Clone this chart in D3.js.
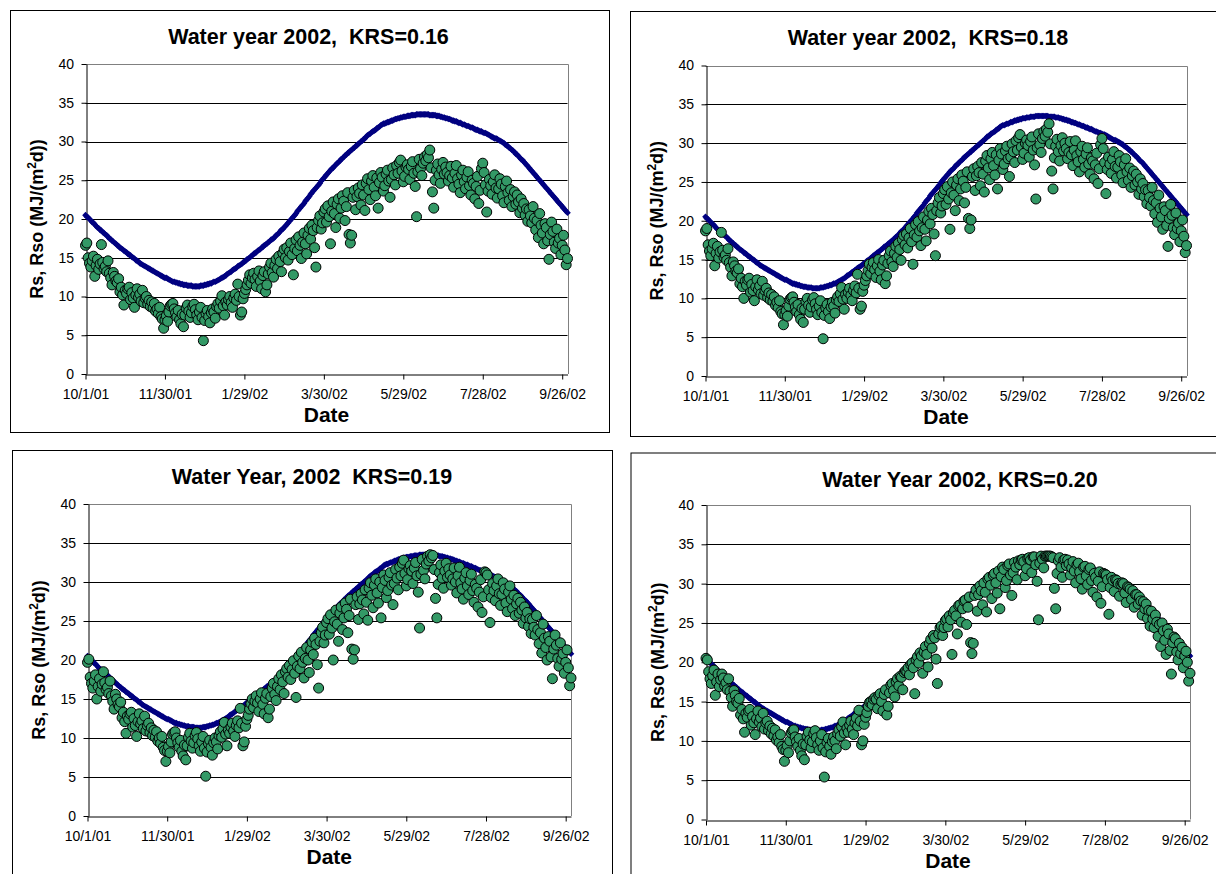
<!DOCTYPE html>
<html>
<head>
<meta charset="utf-8">
<script src="https://cdn.jsdelivr.net/npm/d3@7"></script>
<style>
  html, body { margin: 0; padding: 0; background: #fff; }
  svg { display: block; font-family: Arial, "Liberation Sans", Helvetica, sans-serif; }
</style>
</head>
<body>
<svg id="chart" width="1216" height="874"></svg>
<script>
// ---- data: daily values 10/1/01 .. 9/30/02, MJ/(m2 d) ----
const tickLabels = ['10/1/01', '11/30/01', '1/29/02', '3/30/02', '5/29/02', '7/28/02', '9/26/02'];
const lastDay = '9/30/02';
const yTicks = [0, 5, 10, 15, 20, 25, 30, 35, 40];
const titles = ['Water year 2002,  KRS=0.16', 'Water year 2002,  KRS=0.18', 'Water Year, 2002  KRS=0.19', 'Water Year 2002, KRS=0.20'];

// clear-sky radiation Rso (blue diamonds, same in all panels)
const rso = [
  20.5,20.3,20.2,20.0,19.8,19.6,19.5,19.3,19.1,18.9,18.8,18.6,18.5,18.3,18.2,18.0,17.9,17.7,17.5,17.4,17.2,17.1,16.9,16.8,16.6,
  16.5,16.3,16.2,16.1,15.9,15.8,15.7,15.5,15.4,15.3,15.1,15.0,14.9,14.7,14.6,14.5,14.3,14.2,14.1,14.0,13.9,13.8,13.7,13.6,13.5,13.4,13.3,13.2,13.1,13.0,
  12.9,12.8,12.7,12.6,12.5,12.4,12.4,12.3,12.2,12.1,12.0,11.9,11.9,11.8,11.8,11.7,11.7,11.6,11.6,11.5,11.5,11.5,11.4,
  11.4,11.4,11.4,11.3,11.3,11.3,11.3,11.3,11.3,11.4,11.4,11.4,11.5,11.5,11.6,11.6,11.7,11.7,11.8,11.9,11.9,12.0,
  12.1,12.2,12.3,12.4,12.5,12.6,12.7,12.9,13.0,13.1,13.2,13.4,13.5,13.6,13.7,13.9,14.0,14.1,14.2,14.4,14.5,14.6,14.8,14.9,15.0,15.2,15.3,15.5,
  15.6,15.7,15.9,16.0,16.1,16.3,16.4,16.6,16.7,16.8,17.0,17.1,17.3,17.4,17.5,17.7,17.9,18.0,18.2,18.4,18.6,18.7,18.9,19.1,19.3,
  19.5,19.7,19.9,20.1,20.3,20.5,20.7,21.0,21.2,21.4,21.6,21.8,22.0,22.3,22.5,22.7,22.9,23.2,23.4,23.6,23.8,24.0,24.2,24.4,24.6,24.9,25.1,25.3,25.5,
  25.7,25.9,26.1,26.3,26.5,26.6,26.8,27.0,27.2,27.3,27.5,27.7,27.8,28.0,28.2,28.3,28.5,28.6,28.8,28.9,29.1,29.2,29.4,29.5,29.7,29.8,30.0,30.1,30.3,30.4,30.6,30.8,
  30.9,31.0,31.2,31.3,31.4,31.5,31.7,31.8,31.9,32.1,32.2,32.3,32.3,32.4,32.5,32.5,32.6,32.7,32.7,32.8,32.9,32.9,33.0,33.0,33.1,
  33.1,33.2,33.2,33.2,33.3,33.3,33.3,33.4,33.4,33.4,33.4,33.5,33.5,33.5,33.5,33.5,33.5,33.5,33.5,33.5,33.5,33.4,33.4,33.4,33.4,
  33.4,33.3,33.3,33.3,33.2,33.2,33.1,33.1,33.0,33.0,32.9,32.9,32.8,32.7,32.7,32.6,32.6,32.5,32.4,32.4,32.3,32.2,32.2,32.1,32.0,32.0,31.9,31.8,31.8,31.7,
  31.6,31.5,31.5,31.4,31.3,31.3,31.2,31.1,31.1,31.0,30.9,30.8,30.7,30.6,30.5,30.4,30.4,30.3,30.2,30.1,30.0,
  29.9,29.8,29.6,29.5,29.4,29.2,29.1,28.9,28.8,28.6,28.4,28.3,28.1,27.9,27.7,27.6,27.4,27.2,27.0,26.8,26.6,26.4,26.2,26.0,25.8,
  25.6,25.4,25.2,25.0,24.8,24.6,24.4,24.2,24.0,23.8,23.6,23.4,23.2,23.0,22.8,22.6,22.4,22.2,22.0,21.8,21.6,21.4,21.2,21.0,20.8
];

// estimated Rs (green circles), one array per KRS
const rs016 = [
  16.6,16.9,15.0,14.3,13.8,14.6,15.2,12.6,14.0,14.8,13.5,14.2,16.7,14.4,13.6,13.9,13.2,14.6,13.0,12.4,11.5,13.1,12.6,12.0,11.8,12.3,10.6,11.2,10.2,8.9,10.8,
  10.4,11.0,11.2,9.6,10.5,9.8,8.6,10.2,11.0,9.9,10.3,9.4,10.8,9.2,9.8,10.0,9.0,9.5,8.7,9.3,8.5,9.1,8.1,8.4,7.8,8.6,7.4,7.1,5.9,7.0,
  7.5,6.8,8.0,8.8,9.0,9.1,8.4,7.9,7.4,8.2,7.0,6.5,7.7,6.1,7.6,8.5,8.9,8.1,7.3,7.9,8.7,9.0,8.3,7.6,7.0,8.0,8.6,7.3,4.3,6.9,7.8,
  8.2,7.4,6.6,7.9,8.4,8.0,7.2,8.7,9.1,8.5,9.4,10.1,8.8,7.6,9.3,8.9,9.6,10.0,9.2,8.6,9.8,10.3,9.5,11.6,10.0,7.6,8.0,9.7,10.4,10.9,11.5,
  12.1,12.8,11.7,12.4,13.0,12.2,11.3,12.6,13.3,12.0,11.0,12.7,13.2,10.6,11.5,12.9,13.8,14.3,13.1,12.5,14.0,14.8,13.6,15.2,14.5,13.2,15.6,16.1,
  15.0,16.3,14.7,15.8,16.9,15.4,12.8,16.2,17.3,15.9,17.7,16.6,14.9,17.0,18.2,16.8,15.5,17.9,18.8,17.4,19.2,18.5,16.3,13.8,18.9,19.8,20.4,18.7,19.5,20.9,21.3,
  19.6,21.7,20.3,16.8,21.0,22.2,20.7,18.9,21.9,22.6,20.1,21.4,23.0,22.3,19.8,21.6,23.4,18.0,16.9,17.9,22.8,23.7,21.2,22.9,24.0,23.3,21.8,24.4,23.1,21.1,
  24.6,25.2,23.8,22.5,24.9,25.6,24.1,23.0,25.3,21.4,24.7,26.0,25.4,23.6,24.3,25.8,26.3,24.9,22.8,25.1,26.6,25.7,24.4,26.9,25.9,27.3,27.6,26.2,24.8,25.5,26.7,
  27.0,26.4,25.1,26.8,27.4,25.9,24.2,20.3,26.1,27.7,26.5,25.6,27.2,28.0,27.5,28.3,27.9,28.9,26.6,23.5,21.4,25.0,26.3,27.1,25.7,24.6,26.4,27.3,25.8,26.7,
  26.0,24.9,25.6,26.8,25.3,24.1,25.9,26.9,25.2,24.5,23.4,25.7,26.3,24.8,23.9,25.4,26.1,24.3,23.1,25.0,24.6,22.6,24.2,25.5,22.0,23.7,26.5,27.2,26.0,24.4,20.9,
  23.6,25.1,24.3,23.2,24.8,25.7,24.0,22.7,23.9,25.2,24.5,23.0,22.1,24.2,24.9,23.4,22.4,23.8,21.6,22.9,23.5,21.9,23.1,22.2,20.8,22.6,21.4,22.0,20.5,21.3,19.7,
  21.2,20.4,19.5,21.6,20.1,18.6,19.8,17.6,20.7,19.2,18.2,16.8,19.4,18.9,17.2,14.8,18.0,19.6,18.4,17.0,16.2,18.7,16.9,17.5,15.4,16.6,17.9,16.0,14.1,14.9
];
const rs018 = [
  18.7,19.0,16.9,16.1,15.5,16.4,17.1,14.2,15.8,16.7,15.2,16.0,18.5,16.2,15.3,15.6,14.9,16.4,14.6,14.0,12.9,14.7,14.2,13.5,13.3,13.8,11.9,12.6,11.5,10.0,12.2,
  11.7,12.4,12.6,10.8,11.8,11.0,9.7,11.5,12.4,11.1,11.6,10.6,12.2,10.4,11.0,11.3,10.1,10.7,9.8,10.5,9.6,10.2,9.1,9.5,8.8,9.7,8.3,8.0,6.6,7.9,
  8.4,7.7,9.0,9.9,10.1,10.2,9.5,8.9,8.3,9.2,7.9,7.3,8.7,6.9,8.6,9.6,10.0,9.1,8.2,8.9,9.8,10.1,9.3,8.6,7.9,9.0,9.7,8.2,4.8,7.8,8.8,
  9.2,8.3,7.4,8.9,9.5,9.0,8.1,9.8,10.2,9.6,10.6,11.4,9.9,8.6,10.5,10.0,10.8,11.3,10.4,9.7,11.0,11.6,10.7,13.1,11.3,8.6,9.0,10.9,11.7,12.3,12.9,
  13.6,14.4,13.2,14.0,14.6,13.7,12.7,14.2,15.0,13.5,12.4,14.3,14.9,11.9,12.9,14.5,15.5,16.1,14.7,14.1,15.8,16.7,15.3,17.1,16.3,14.9,17.6,18.1,
  16.9,18.3,16.5,17.8,19.0,17.3,14.4,18.2,19.5,17.9,19.9,18.7,16.8,19.1,20.5,18.9,17.4,20.1,21.2,19.6,21.6,20.8,18.3,15.5,21.3,22.3,23.0,21.0,21.9,23.5,24.0,
  22.1,24.4,22.8,18.9,23.6,25.0,23.3,21.3,24.6,25.4,22.6,24.1,25.9,25.1,22.3,24.3,26.3,20.3,19.0,20.1,25.7,26.7,23.9,25.8,27.0,26.2,24.5,27.5,26.0,23.7,
  27.7,28.4,26.8,25.3,28.0,28.8,27.1,25.9,28.5,24.1,27.8,29.3,28.6,26.6,27.3,29.0,29.6,28.0,25.7,28.2,29.9,28.9,27.5,30.3,29.1,30.7,31.1,29.5,27.9,28.7,30.0,
  30.4,29.7,28.2,30.2,30.8,29.1,27.2,22.8,29.4,31.2,29.8,28.8,30.6,31.5,30.9,31.8,31.4,32.5,29.9,26.4,24.1,28.1,29.6,30.5,28.9,27.7,29.7,30.7,29.0,30.0,
  29.3,28.0,28.8,30.2,28.5,27.1,29.1,30.3,28.4,27.6,26.3,28.9,29.6,27.9,26.9,28.6,29.4,27.3,26.0,28.1,27.7,25.4,27.2,28.7,24.8,26.7,29.8,30.6,29.3,27.5,23.5,
  26.6,28.2,27.3,26.1,27.9,28.9,27.0,25.5,26.9,28.4,27.6,25.9,24.9,27.2,28.0,26.3,25.2,26.8,24.3,25.8,26.4,24.6,26.0,25.0,23.4,25.4,24.1,24.8,23.1,24.0,22.2,
  23.9,23.0,21.9,24.3,22.6,20.9,22.3,19.8,23.3,21.6,20.5,18.9,21.8,21.3,19.4,16.7,20.3,22.1,20.7,19.1,18.2,21.0,19.0,19.7,17.3,18.7,20.1,18.0,15.9,16.8
];
const rs019 = [
  19.7,20.1,17.8,17.0,16.4,17.3,18.1,15.0,16.6,17.6,16.0,16.9,18.5,17.1,16.2,16.5,15.7,17.3,15.4,14.7,13.7,15.6,15.0,14.3,14.0,14.6,12.6,13.3,12.1,10.6,12.8,
  12.4,13.1,13.3,11.4,12.5,11.6,10.2,12.1,13.1,11.8,12.2,11.2,12.8,10.9,11.6,11.9,10.7,11.3,10.3,11.0,10.1,10.8,9.6,10.0,9.3,10.2,8.8,8.4,7.0,8.3,
  8.9,8.1,9.5,10.5,10.7,10.8,10.0,9.4,8.8,9.7,8.3,7.7,9.1,7.2,9.0,10.1,10.6,9.6,8.7,9.4,10.3,10.7,9.9,9.0,8.3,9.5,10.2,8.7,5.1,8.2,9.3,
  9.7,8.8,7.8,9.4,10.0,9.5,8.6,10.3,10.8,10.1,11.2,12.0,10.5,9.0,11.0,10.6,11.4,11.9,10.9,10.2,11.6,12.2,11.3,13.8,11.9,9.0,9.5,11.5,12.4,12.9,13.7,
  14.4,15.0,13.9,14.7,15.4,14.5,13.4,15.0,15.8,14.3,13.1,15.1,15.7,12.6,13.7,15.3,16.4,17.0,15.6,14.8,16.6,17.6,16.2,18.1,17.2,15.7,18.5,18.9,
  17.8,19.3,17.5,18.8,19.9,18.3,15.2,19.2,20.5,18.9,21.0,19.7,17.7,20.2,21.6,20.0,18.4,21.3,22.3,20.7,22.8,22.0,19.4,16.4,22.4,23.5,24.2,22.2,23.2,24.8,25.3,
  23.3,25.8,24.1,20.0,24.9,26.4,24.6,22.4,26.0,26.8,23.9,25.4,27.3,26.5,23.5,25.7,27.8,21.4,20.1,21.3,27.1,28.1,25.2,27.2,28.5,27.7,25.9,29.0,27.4,25.1,
  29.2,29.9,28.3,26.7,29.6,30.4,28.6,27.3,30.0,25.4,29.3,30.9,30.2,28.0,28.9,30.6,31.2,29.6,27.1,29.8,31.6,30.5,29.0,31.9,30.8,32.4,32.8,31.1,29.5,30.3,31.7,
  32.1,31.4,29.8,31.8,32.5,30.8,28.7,24.1,31.0,32.9,31.5,30.4,32.3,33.3,32.7,33.5,33.1,33.4,31.6,27.9,25.4,29.7,31.2,32.2,30.5,29.2,31.4,32.4,30.6,31.7,
  30.9,29.6,30.4,31.8,30.0,28.6,30.8,31.9,29.9,29.1,27.8,30.5,31.2,29.5,28.4,30.2,31.0,28.9,27.4,29.7,29.2,26.8,28.7,30.3,26.1,28.1,31.3,31.2,30.9,29.0,24.8,
  28.0,29.8,28.9,27.6,29.5,30.4,28.5,27.0,28.4,29.9,29.1,27.3,26.2,28.7,29.5,27.8,26.6,28.3,25.7,27.2,27.9,26.0,27.4,26.4,24.7,26.8,25.4,26.1,24.3,25.3,23.4,
  25.2,24.2,23.2,25.7,23.9,22.1,23.5,20.9,24.6,22.8,21.6,20.0,23.0,22.4,20.4,17.6,21.4,23.2,21.9,20.2,19.2,22.2,20.1,20.8,18.3,19.7,21.3,19.0,16.7,17.7
];
const rs020 = [
  20.5,20.3,18.8,17.9,17.3,18.3,19.0,15.8,17.5,18.5,16.9,17.8,18.5,18.0,17.0,17.4,16.5,17.9,16.3,15.5,14.4,16.4,15.8,15.0,14.8,15.4,13.3,14.0,12.8,11.1,13.5,
  13.0,13.8,14.0,12.0,13.1,12.3,10.8,12.8,13.8,12.4,12.9,11.8,13.5,11.5,12.3,12.5,11.3,11.9,10.9,11.6,10.6,11.4,10.1,10.5,9.8,10.8,9.3,8.9,7.4,8.8,
  9.4,8.5,10.0,11.0,11.3,11.4,10.5,9.9,9.3,10.3,8.8,8.1,9.6,7.6,9.5,10.6,11.1,10.1,9.1,9.9,10.9,11.3,10.4,9.5,8.8,10.0,10.8,9.1,5.4,8.6,9.8,
  10.3,9.3,8.3,9.9,10.5,10.0,9.0,10.9,11.4,10.6,11.8,12.4,11.0,9.5,11.6,11.1,12.0,12.5,11.5,10.8,12.3,12.9,11.9,13.9,12.5,9.5,10.0,12.1,13.0,13.6,14.4,
  14.9,15.0,14.6,15.3,15.5,15.3,14.1,15.8,16.0,15.0,13.8,15.9,16.5,13.3,14.4,16.1,17.1,17.3,16.4,15.6,17.5,17.9,17.0,18.2,18.1,16.5,18.7,18.9,
  18.8,19.3,18.4,19.7,19.9,19.3,16.0,20.3,20.7,19.9,21.2,20.8,18.6,21.3,22.0,21.0,19.4,22.4,22.9,21.8,23.4,23.1,20.4,17.3,23.6,24.4,24.6,23.4,24.4,25.3,25.5,
  24.5,25.9,25.4,21.0,26.3,26.6,25.9,23.6,27.2,27.3,25.1,26.8,27.8,27.9,24.8,27.0,28.3,22.5,21.1,22.4,28.5,29.2,26.5,28.6,29.7,29.1,27.3,30.1,28.9,26.4,
  30.6,30.8,29.8,28.1,31.1,31.3,30.1,28.8,31.6,26.8,30.9,32.1,31.8,29.5,30.4,32.3,32.5,31.1,28.5,31.4,32.7,32.1,30.5,32.9,32.4,33.0,33.1,32.8,31.0,31.9,33.2,
  33.3,33.0,31.4,33.4,33.4,32.4,30.3,25.4,32.6,33.5,33.1,32.0,33.5,33.5,33.5,33.5,33.5,33.4,33.3,29.4,26.8,31.3,32.9,33.3,32.1,30.8,33.0,33.1,32.3,33.0,
  32.5,31.1,32.0,32.8,31.6,30.1,32.4,32.6,31.5,30.6,29.3,32.1,32.2,31.0,29.9,31.8,32.0,30.4,28.9,31.3,30.8,28.3,30.3,31.5,27.5,29.6,31.3,31.2,31.1,30.5,26.1,
  29.5,30.8,30.4,29.0,30.5,30.4,30.0,28.4,29.9,30.1,30.0,28.8,27.6,29.6,29.5,29.3,28.0,29.1,27.0,28.6,28.6,27.4,28.3,27.8,26.0,27.7,26.8,27.4,25.6,26.6,24.6,
  26.5,25.5,24.4,26.0,25.1,23.3,24.8,22.0,25.0,24.0,22.8,21.0,24.2,23.6,21.5,18.5,22.5,23.2,23.0,21.3,20.3,22.4,21.1,21.9,19.3,20.8,21.4,20.0,17.6,18.6
];

// ---- layout (pixels) ----
const panels = [
  { title: titles[0], rs: rs016, box: [10.5, 10.5, 609.5, 432.5], titleX: 308.5, titleY: 44, plot: [85.5, 64, 567.5, 374] },
  { title: titles[1], rs: rs018, box: [630.5, 11.5, 1230, 436.5], titleX: 928, titleY: 45, plot: [705.5, 65.5, 1186.5, 376] },
  { title: titles[2], rs: rs019, box: [12.5, 450.5, 612.5, 890], titleX: 312, titleY: 484, plot: [87.5, 504, 571, 816] },
  { title: titles[3], rs: rs020, box: [631, 453, 1230, 890], titleX: 960, titleY: 487, plot: [706, 505, 1190, 819.5] }
];

const svg = d3.select('#chart');
const parse = d3.utcParse('%m/%d/%y');
const t0 = parse(tickLabels[0]), t1 = parse(lastDay);
const dayOf = i => d3.utcDay.offset(t0, i);

// Excel-style diamond marker
const diamond = { draw(ctx, size) { const r = Math.sqrt(size / 2); ctx.moveTo(0, -r); ctx.lineTo(r, 0); ctx.lineTo(0, r); ctx.lineTo(-r, 0); ctx.closePath(); } };
const diamondPath = d3.symbol().type(diamond).size(22)();

panels.forEach(p => {
  const [l, t, r, b] = p.plot;
  const x = d3.scaleUtc().domain([t0, t1]).range([l, r]);
  const y = d3.scaleLinear().domain([0, 40]).range([b, t]);
  const g = svg.append('g');

  const [bx0, by0, bx1, by1] = p.box;
  g.append('rect').attr('x', bx0).attr('y', by0).attr('width', bx1 - bx0).attr('height', by1 - by0)
    .attr('fill', 'none').attr('stroke', '#000').attr('stroke-width', 1);

  // gridlines
  g.append('g').selectAll('line').data(yTicks.filter(v => v > 0 && v < 40)).join('line')
    .attr('x1', l).attr('x2', r).attr('y1', d => Math.round(y(d)) + 0.5).attr('y2', d => Math.round(y(d)) + 0.5)
    .attr('stroke', '#000').attr('stroke-width', 1);
  // plot area border (top, right)
  g.append('path').attr('d', `M${l},${Math.round(t) + 0.5}H${Math.round(r) + 0.5}V${b}`)
    .attr('fill', 'none').attr('stroke', '#808080').attr('stroke-width', 1);

  const yAxis = g.append('g').attr('transform', `translate(${Math.round(l) + 0.5},0)`)
    .call(d3.axisLeft(y).tickValues(yTicks).tickSize(5).tickSizeOuter(0).tickPadding(7.5));
  const xAxis = g.append('g').attr('transform', `translate(0,${Math.round(b) + 0.5})`)
    .call(d3.axisBottom(x).tickValues(tickLabels.map(parse)).tickFormat((d, i) => tickLabels[i])
      .tickSize(5).tickSizeOuter(0).tickPadding(10));
  [yAxis, xAxis].forEach(a => {
    a.attr('font-family', null).attr('font-size', 14);
    a.select('.domain').attr('stroke', '#000');
    a.selectAll('.tick line').attr('stroke', '#000');
    a.selectAll('.tick text').attr('fill', '#000');
  });

  // Rso: navy diamonds
  g.append('g').selectAll('path').data(rso).join('path')
    .attr('d', diamondPath)
    .attr('transform', (d, i) => `translate(${x(dayOf(i))},${y(d)})`)
    .attr('fill', '#000080');

  // Rs: green circles
  g.append('g').selectAll('circle').data(p.rs).join('circle')
    .attr('cx', (d, i) => x(dayOf(i))).attr('cy', d => y(d)).attr('r', 5)
    .attr('fill', '#339966').attr('stroke', '#000').attr('stroke-width', 1);

  // titles
  g.append('text').attr('x', p.titleX).attr('y', p.titleY).attr('text-anchor', 'middle')
    .attr('font-size', 21.5).attr('font-weight', 'bold').style('white-space', 'pre').text(p.title);
  g.append('text').attr('x', (l + r) / 2).attr('y', b + 48).attr('text-anchor', 'middle')
    .attr('font-size', 21).attr('font-weight', 'bold').text('Date');
  const yl = g.append('text').attr('transform', `translate(${l - 42.5},${(t + b) / 2}) rotate(-90)`)
    .attr('text-anchor', 'middle').attr('font-size', 18).attr('font-weight', 'bold');
  yl.append('tspan').text('Rs, Rso (MJ/(m');
  yl.append('tspan').attr('font-size', 12).attr('dy', -7).text('2');
  yl.append('tspan').attr('dy', 7).text('d))');
});
</script>
</body>
</html>
